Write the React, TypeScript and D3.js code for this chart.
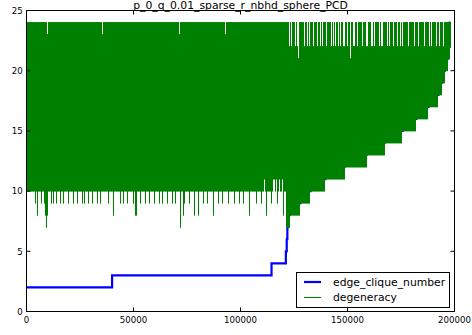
import React from "react";
import * as d3 from "d3";

const title = "p_0_q_0.01_sparse_r_nbhd_sphere_PCD";
const xTicks = [0, 50000, 100000, 150000, 200000];
const yTicks = [0, 5, 10, 15, 20, 25];
const seriesNames = ["edge_clique_number", "degeneracy"];

// edge_clique_number: step series [x, value]
const cliqueX = [0, 40000, 114500, 121200, 121600, 121900, 122200, 123000, 128000, 132700, 139700, 148600, 158900, 167300, 175700, 182200, 187850, 192500, 194250, 195500, 197000, 197800, 198100];
const cliqueY = [2, 3, 4, 5, 6, 7, 8, 9, 10, 11, 12, 13, 14, 15, 16, 17, 18, 19, 20, 21, 22, 24, 24];

// degeneracy: per-column envelope
const degeneracyEnd = 198100;
const degeneracyHigh = 24;
const lowStepX = [0, 121200, 123000, 128000, 132700, 139700, 148600, 158900, 167300, 175700, 182200, 187850, 192500, 194250, 195500, 197000, 197800];
const lowStepY = [10, 7, 8, 9, 10, 11, 12, 13, 14, 15, 16, 17, 18, 19, 20, 21, 22];
const liftTo11X = [111200, 115400, 116100, 116800, 118200, 119400];
const dipTo9X = [4200, 6900, 8200, 10000, 11600, 12800, 13800, 16100, 17400, 19800, 22100, 23700, 26000, 27100, 29100, 30700, 33000, 34600, 38500, 43900, 45500, 47100, 49800, 53300, 55600, 57700, 59800, 62200, 63600, 66100, 68200, 69600, 73800, 76400, 82700, 84800, 89500, 91800, 94600, 97200, 99500, 101600, 107400, 109800, 114400, 117500, 119900];
const dipTo8X = [5300, 8900, 9800, 40800, 50900, 51600, 73500, 78600, 80500, 87200, 104400, 112200, 120100];
const dipTo7X = [9200, 71800];
const gapTo23X = [9800, 35300, 71500, 93200];
const gapTo22X = [123100, 123600, 125900, 126600, 127300, 129900, 131100, 132200, 134100, 136000, 137600, 138100, 140200, 142300, 143500, 144400, 145800, 146500, 147900, 148800, 149800, 152800, 153500, 154700, 156800, 158900, 159300, 161200, 161900, 162600, 165000, 165700, 166400, 168900, 169600, 171700, 173400, 174800, 175700, 178400, 181100, 183400, 186000, 188300, 189300, 191600, 192800, 194900];
const gapTo21X = [127000, 151600];

const W = 472;
const H = 335;
const FONT = "DejaVu Sans, sans-serif";

export default function App() {
  const x = d3.scaleLinear().domain([0, 200000]).range([26.5, 454.5]);
  const y = d3.scaleLinear().domain([0, 25]).range([311.5, 10.5]);

  const stepAt = (xs: number[], ys: number[], v: number) => {
    let val = ys[0];
    for (let i = 0; i < xs.length; i++) if (v >= xs[i]) val = ys[i];
    return val;
  };

  const cols: { k: number; low: number; high: number }[] = [];
  const kStart = Math.floor(x(0));
  const kEnd = Math.ceil(x(degeneracyEnd));
  for (let k = kStart; k < kEnd; k++) {
    const a = Math.max(0, x.invert(k));
    const b = Math.min(degeneracyEnd, x.invert(k + 1));
    const inCol = (arr: number[]) => arr.some((v) => v >= a && v < b);
    let low = stepAt(lowStepX, lowStepY, (a + b) / 2);
    if (inCol(liftTo11X)) low = 11;
    if (inCol(dipTo9X)) low = Math.min(low, 9);
    if (inCol(dipTo8X)) low = Math.min(low, 8);
    if (inCol(dipTo7X)) low = Math.min(low, 7);
    let high = degeneracyHigh;
    if (inCol(gapTo23X)) high = Math.min(high, 23);
    if (inCol(gapTo22X)) high = Math.min(high, 22);
    if (inCol(gapTo21X)) high = Math.min(high, 21);
    cols.push({ k, low, high });
  }
  const gp = d3.path();
  cols.forEach((c) => {
    gp.moveTo(c.k + 0.5, y(c.low) + 0.5);
    gp.lineTo(c.k + 0.5, y(c.high) - 0.5);
  });

  const cliquePts = cliqueX.map((v, i) => [v, cliqueY[i]] as [number, number]);
  const blueLine = d3
    .line<[number, number]>()
    .x((d) => x(d[0]))
    .y((d) => y(d[1]))
    .curve(d3.curveStepAfter)(cliquePts) as string;

  const left = x(0), right = x(200000), top = y(25), bottom = y(0);
  const tl = 4;

  return (
    <svg width={W} height={H} style={{ position: "absolute", left: 0, top: 0, background: "#fff" }} fontFamily={FONT}>
      <rect x={0} y={0} width={W} height={H} fill="#fff" />
      <path d={blueLine} fill="none" stroke="#0000ff" strokeWidth={2.2} />
      <path d={gp.toString()} fill="none" stroke="#008000" strokeWidth={1} />
      <rect x={left} y={top} width={right - left} height={bottom - top} fill="none" stroke="#000" strokeWidth={1} />
      {xTicks.map((t) => (
        <g key={"x" + t}>
          <line x1={x(t)} x2={x(t)} y1={bottom} y2={bottom - tl} stroke="#000" />
          <line x1={x(t)} x2={x(t)} y1={top} y2={top + tl} stroke="#000" />
          <text x={x(t)} y={323.3} fontSize={8.6} textAnchor="middle" fill="#000">{t}</text>
        </g>
      ))}
      {yTicks.map((t) => (
        <g key={"y" + t}>
          <line x1={left} x2={left + tl} y1={y(t)} y2={y(t)} stroke="#000" />
          <line x1={right} x2={right - tl} y1={y(t)} y2={y(t)} stroke="#000" />
          <text x={22.7} y={y(t) + 3.2} fontSize={8.6} textAnchor="end" fill="#000">{t}</text>
        </g>
      ))}
      <text x={(left + right) / 2} y={9.3} fontSize={10.8} textAnchor="middle" fill="#000">{title}</text>
      <g>
        <rect x={296.5} y={272.5} width={153} height={35} fill="#fff" stroke="#000" strokeWidth={1} />
        <line x1={304} x2={321} y1={282} y2={282} stroke="#0000ff" strokeWidth={2.2} />
        <line x1={304} x2={321} y1={297.5} y2={297.5} stroke="#008000" strokeWidth={1} />
        <text x={333} y={285.6} fontSize={10.8} fill="#000">{seriesNames[0]}</text>
        <text x={333} y={301} fontSize={10.8} fill="#000">{seriesNames[1]}</text>
      </g>
    </svg>
  );
}
